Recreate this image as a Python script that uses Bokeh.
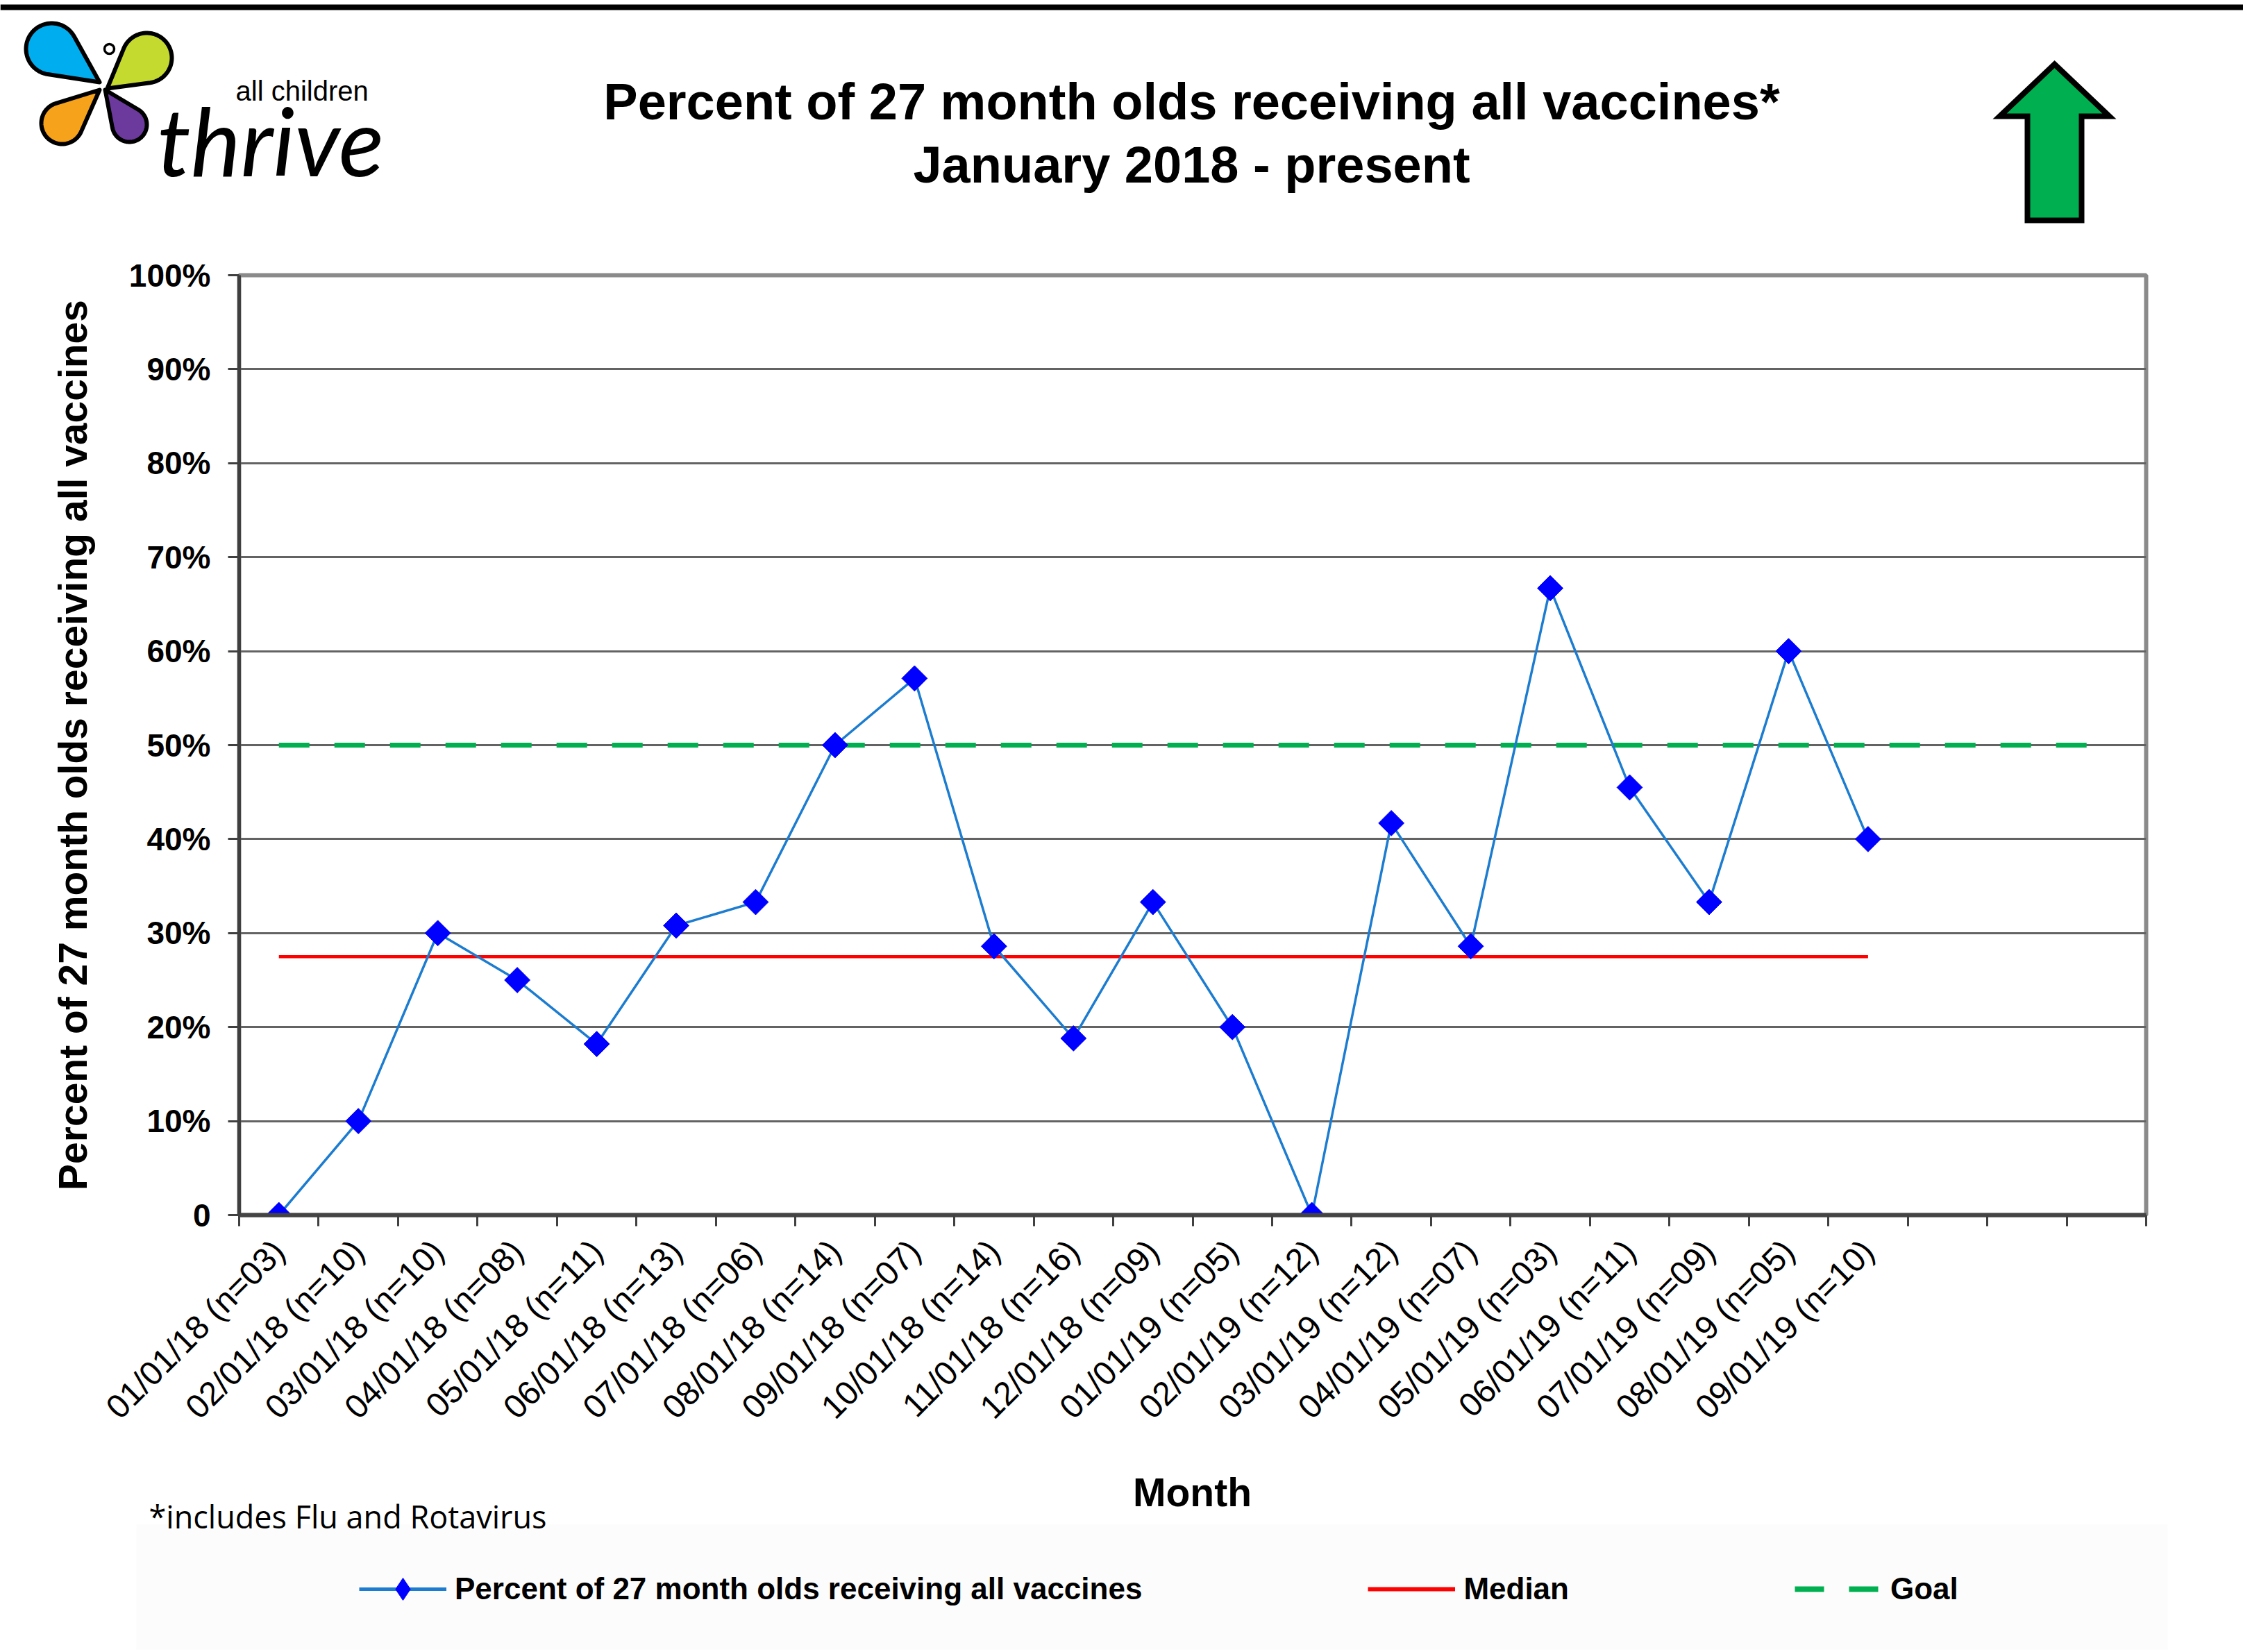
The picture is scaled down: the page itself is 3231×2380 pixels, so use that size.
import numpy as np
from bokeh.plotting import figure
from bokeh.layouts import column
from bokeh.models import Range1d, FixedTicker, Legend, LegendItem
from bokeh.core.properties import value
from bokeh.embed import file_html
from bokeh.resources import INLINE

# ---------------- data ----------------
months = ["01/01/18", "02/01/18", "03/01/18", "04/01/18", "05/01/18", "06/01/18",
          "07/01/18", "08/01/18", "09/01/18", "10/01/18", "11/01/18", "12/01/18",
          "01/01/19", "02/01/19", "03/01/19", "04/01/19", "05/01/19", "06/01/19",
          "07/01/19", "08/01/19", "09/01/19"]
n_counts = ["03", "10", "10", "08", "11", "13", "06", "14", "07", "14", "16", "09",
            "05", "12", "12", "07", "03", "11", "09", "05", "10"]
pct_all_vaccines = [0, 10, 30, 25, 18.2, 30.8, 33.3, 50, 57.1, 28.6, 18.8, 33.3,
                    20, 0, 41.7, 28.6, 66.7, 45.5, 33.3, 60, 40]
median_value = 27.5
goal_value = 50
n_slots = 24  # month slots on the axis (last three are empty)
y_ticks = [0, 10, 20, 30, 40, 50, 60, 70, 80, 90, 100]
y_tick_labels = ["0", "10%", "20%", "30%", "40%", "50%", "60%", "70%", "80%", "90%", "100%"]

title_line1 = "Percent of 27 month olds receiving all vaccines*"
title_line2 = "January 2018 - present"
y_title = "Percent of 27 month olds receiving all vaccines"
x_title = "Month"
footnote = "*includes Flu and Rotavirus"
series_name = "Percent of 27 month olds receiving all vaccines"
median_name = "Median"
goal_name = "Goal"

x_labels = [f"{m} (n={n})" for m, n in zip(months, n_counts)]
x_pos = [i + 0.5 for i in range(len(months))]

FONT = "Liberation Sans"
W = 3231
HEADER_H = 360
MAIN_H = 1750
FOOTER_H = 2380 - HEADER_H - MAIN_H
FOOT0 = HEADER_H + MAIN_H  # page y where the footer starts

SERIES_COLOR = "#1C7CD0"
MARKER_COLOR = "#0000FF"
MEDIAN_COLOR = "#FF0000"
GOAL_COLOR = "#00B050"


def bare(fig):
    fig.grid.visible = False
    fig.outline_line_color = None
    if hasattr(fig, "frame_align"):
        fig.frame_align = False


# ---------------- header (rule, logo, title, arrow) ----------------
h = figure(width=W, height=HEADER_H, x_range=Range1d(0, W), y_range=Range1d(HEADER_H, 0),
           x_axis_type=None, y_axis_type=None, output_backend="svg",
           toolbar_location=None, min_border=0, title=None)
bare(h)

h.line(x=[0, W], y=[10, 10], line_width=8, line_color="black")


def teardrop(cx, cy, r, tx, ty, n=60):
    th = np.arctan2(ty - cy, tx - cx)
    d = np.hypot(tx - cx, ty - cy)
    a = np.arccos(r / d)
    angs = np.linspace(th + a, th - a + 2 * np.pi, n)
    xs = [tx] + list(cx + r * np.cos(angs))
    ys = [ty] + list(cy + r * np.sin(angs))
    return xs, ys


wings = [
    ((74, 70, 37, 143, 118), "#00AEEF"),
    ((211, 83, 36, 154, 127), "#C5DA2F"),
    ((89, 177, 30, 143, 129), "#F7A21B"),
    ((186, 179, 25, 151, 129), "#6B3A9C"),
]
wx, wy, wc = [], [], []
for (cx, cy, r, tx, ty), col in wings:
    xs, ys = teardrop(cx, cy, r, tx, ty)
    wx.append(xs)
    wy.append(ys)
    wc.append(col)
h.patches(xs=wx, ys=wy, fill_color=wc, line_color="black", line_width=6, line_join="round")
h.scatter(x=[157], y=[70], size=14, marker="circle", fill_color="white",
          line_color="black", line_width=3.5)
h.text(x=[339], y=[130], text=["all children"], text_font=value(FONT),
       text_font_size="40px", text_baseline="alphabetic", text_color="black")
h.text(x=[226], y=[201], text=["thrive"], text_font=value("Lato"), text_font_style="italic",
       text_font_size="136px", text_baseline="alphabetic", text_color="black")

h.text(x=[1716, 1716], y=[146, 237], text=[title_line1, title_line2],
       text_font=value(FONT), text_font_style="bold", text_font_size="74px",
       text_align="center", text_baseline="middle", text_color="black")

arrow_x = [2959, 3038, 2998, 2998, 2920, 2920, 2880]
arrow_y = [92, 167, 167, 317, 317, 167, 167]
h.patch(x=arrow_x, y=arrow_y, fill_color=GOAL_COLOR, line_color="black", line_width=8,
        line_join="miter")

# ---------------- main chart ----------------
p = figure(width=W, height=MAIN_H, x_range=Range1d(0, n_slots), y_range=Range1d(0, 100),
           output_backend="svg", toolbar_location=None, title=None,
           min_border_left=344, min_border_right=140, min_border_top=36,
           min_border_bottom=360)
if hasattr(p, "frame_align"):
    p.frame_align = False
p.outline_line_color = "#8a8a8a"
p.outline_line_width = 6
p.xgrid.visible = False
p.ygrid.ticker = FixedTicker(ticks=y_ticks)
p.ygrid.grid_line_color = "#636363"
p.ygrid.grid_line_width = 3

# y axis
ya = p.yaxis[0]
ya.ticker = FixedTicker(ticks=y_ticks)
ya.major_label_overrides = {t: l for t, l in zip(y_ticks, y_tick_labels)}
ya.major_label_text_font = FONT
ya.major_label_text_font_style = "bold"
ya.major_label_text_font_size = "46px"
ya.major_label_text_color = "black"
ya.major_label_standoff = 25
ya.major_tick_out = 16
ya.major_tick_in = 0
ya.major_tick_line_color = "#404040"
ya.major_tick_line_width = 3
ya.minor_tick_line_color = None
ya.axis_line_color = "#3f3f3f"
ya.axis_line_width = 5
ya.axis_label = y_title
ya.axis_label_text_font = FONT
ya.axis_label_text_font_style = "bold"
ya.axis_label_text_font_size = "57px"
ya.axis_label_text_color = "black"
ya.axis_label_standoff = 46

# x axis
xa = p.xaxis[0]
xa.ticker = FixedTicker(ticks=x_pos, minor_ticks=list(range(0, n_slots + 1)))
xa.major_label_overrides = {x: l for x, l in zip(x_pos, x_labels)}
xa.major_label_orientation = np.pi / 4
xa.major_label_text_font = FONT
xa.major_label_text_font_size = "48px"
xa.major_label_text_color = "black"
xa.major_label_standoff = 28
xa.major_tick_out = 0
xa.major_tick_in = 0
xa.major_tick_line_color = None
xa.minor_tick_out = 16
xa.minor_tick_in = 0
xa.minor_tick_line_color = "#404040"
xa.minor_tick_line_width = 3
xa.axis_line_color = "#444444"
xa.axis_line_width = 6

# reference lines
p.line(x=[x_pos[0], n_slots - 0.5], y=[goal_value, goal_value], line_color=GOAL_COLOR,
       line_width=7, line_dash="44 36", line_cap="butt")
p.line(x=[x_pos[0], x_pos[-1]], y=[median_value, median_value], line_color=MEDIAN_COLOR,
       line_width=4.5)

# series
p.line(x=x_pos, y=pct_all_vaccines, line_color=SERIES_COLOR, line_width=3.5)
p.scatter(x=x_pos, y=pct_all_vaccines, marker="square", angle=np.pi / 4, size=26,
          fill_color=MARKER_COLOR, line_color=MARKER_COLOR, line_width=1)

# ---------------- footer (axis title, footnote, legend) ----------------
f = figure(width=W, height=FOOTER_H, x_range=Range1d(0, W), y_range=Range1d(FOOTER_H, 0),
           x_axis_type=None, y_axis_type=None, output_backend="svg",
           toolbar_location=None, min_border=0, title=None)
bare(f)
f.quad(left=[196], right=[3122], top=[2196 - FOOT0], bottom=[2376 - FOOT0],
       fill_color="#fcfcfc", line_color=None)
f.text(x=[1717], y=[2149 - FOOT0], text=[x_title], text_font=value(FONT),
       text_font_style="bold", text_font_size="57px", text_align="center",
       text_baseline="middle", text_color="black")
f.text(x=[214], y=[2184 - FOOT0], text=[footnote], text_font=value("Open Sans"),
       text_font_size="45px", text_align="left", text_baseline="middle", text_color="black")

# legend symbols: proxies styled like the chart's series, kept outside the visible range
off_x, off_y = [-200, -100], [-200, -200]
lg_line = f.line(x=off_x, y=off_y, line_color=SERIES_COLOR, line_width=5)
lg_pts = f.scatter(x=off_x[:1], y=off_y[:1], marker="diamond",
                   fill_color=MARKER_COLOR, line_color=MARKER_COLOR)
lg_med = f.line(x=off_x, y=off_y, line_color=MEDIAN_COLOR, line_width=6)
lg_goal = f.line(x=off_x, y=off_y, line_color=GOAL_COLOR, line_width=8, line_dash="42 36")

legend = Legend(items=[LegendItem(label=series_name, renderers=[lg_line, lg_pts]),
                       LegendItem(label=median_name, renderers=[lg_med]),
                       LegendItem(label=goal_name, renderers=[lg_goal])],
                orientation="horizontal", location=(517, 51), spacing=325,
                label_standoff=12, glyph_width=126, glyph_height=80,
                label_text_font=FONT, label_text_font_style="bold",
                label_text_font_size="44px", label_text_color="black",
                border_line_color=None, background_fill_alpha=0, padding=10, margin=0)
f.add_layout(legend, "center")

layout = column(h, p, f)
open("out.html", "w").write(file_html(layout, INLINE))
